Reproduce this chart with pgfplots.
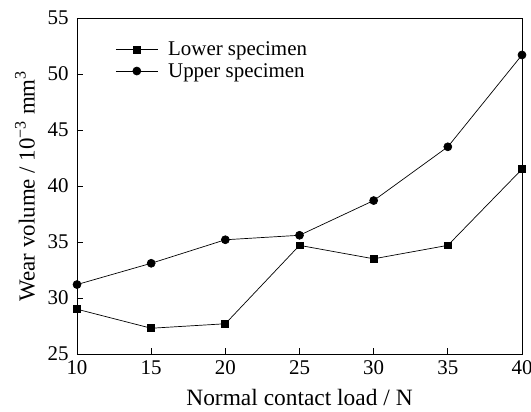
\documentclass[border=0pt]{standalone}
\usepackage{fontspec}
\setmainfont{Liberation Serif}
\usepackage{pgfplots}
\pgfplotsset{compat=1.18}
\begin{document}
\begin{tikzpicture}
\useasboundingbox (-77bp,-58bp) rectangle (454bp,354bp);
\begin{axis}[
  at={(0,0)}, anchor=south west,
  scale only axis,
  width=445bp, height=336bp,
  xmin=10, xmax=40, ymin=25, ymax=55,
  xtick={10,15,...,40}, ytick={25,30,...,55},
  tick pos=left, tick align=inside,
  major tick length=6pt,
  axis line style={line width=0.9pt},
  tick style={line width=0.8pt, black},
  /pgf/number format/assume math mode=true,
  ticklabel style={font=\fontsize{21}{21}\selectfont},
  yticklabel style={xshift=-5pt},
  xticklabel style={yshift=-3pt},
  xlabel={Normal contact load / N},
  ylabel={Wear volume / 10\textsuperscript{−3} mm\textsuperscript{3}},
  xlabel style={font=\fontsize{23.5}{23.5}\selectfont,
    at={(axis description cs:0.5,-0.128)}, anchor=center},
  ylabel style={font=\fontsize{23}{23}\selectfont,
    at={(axis description cs:-0.117,0.5)}, anchor=center},
  legend style={draw=none, fill=none, at={(axis description cs:0.086,0.935)},
    anchor=north west, font=\fontsize{21}{21}\selectfont, row sep=2pt,
    inner sep=0pt},
  legend cell align=left,
  legend image code/.code={
    \draw[mark repeat=2, mark phase=2] plot coordinates {(0bp,0bp) (21bp,0bp) (42bp,0bp)};
    \path (50bp,0bp);
  },
  every axis plot/.append style={black, line width=0.7pt},
]
\addplot[mark=square*, mark size=3.5pt] coordinates {
  (10,29.0) (15,27.3) (20,27.7) (25,34.7) (30,33.5) (35,34.7) (40,41.5)
};
\addlegendentry{Lower specimen}
\addplot[mark=*, mark size=4pt] coordinates {
  (10,31.2) (15,33.1) (20,35.2) (25,35.6) (30,38.7) (35,43.5) (40,51.7)
};
\addlegendentry{Upper specimen}
\end{axis}
\end{tikzpicture}
\end{document}
